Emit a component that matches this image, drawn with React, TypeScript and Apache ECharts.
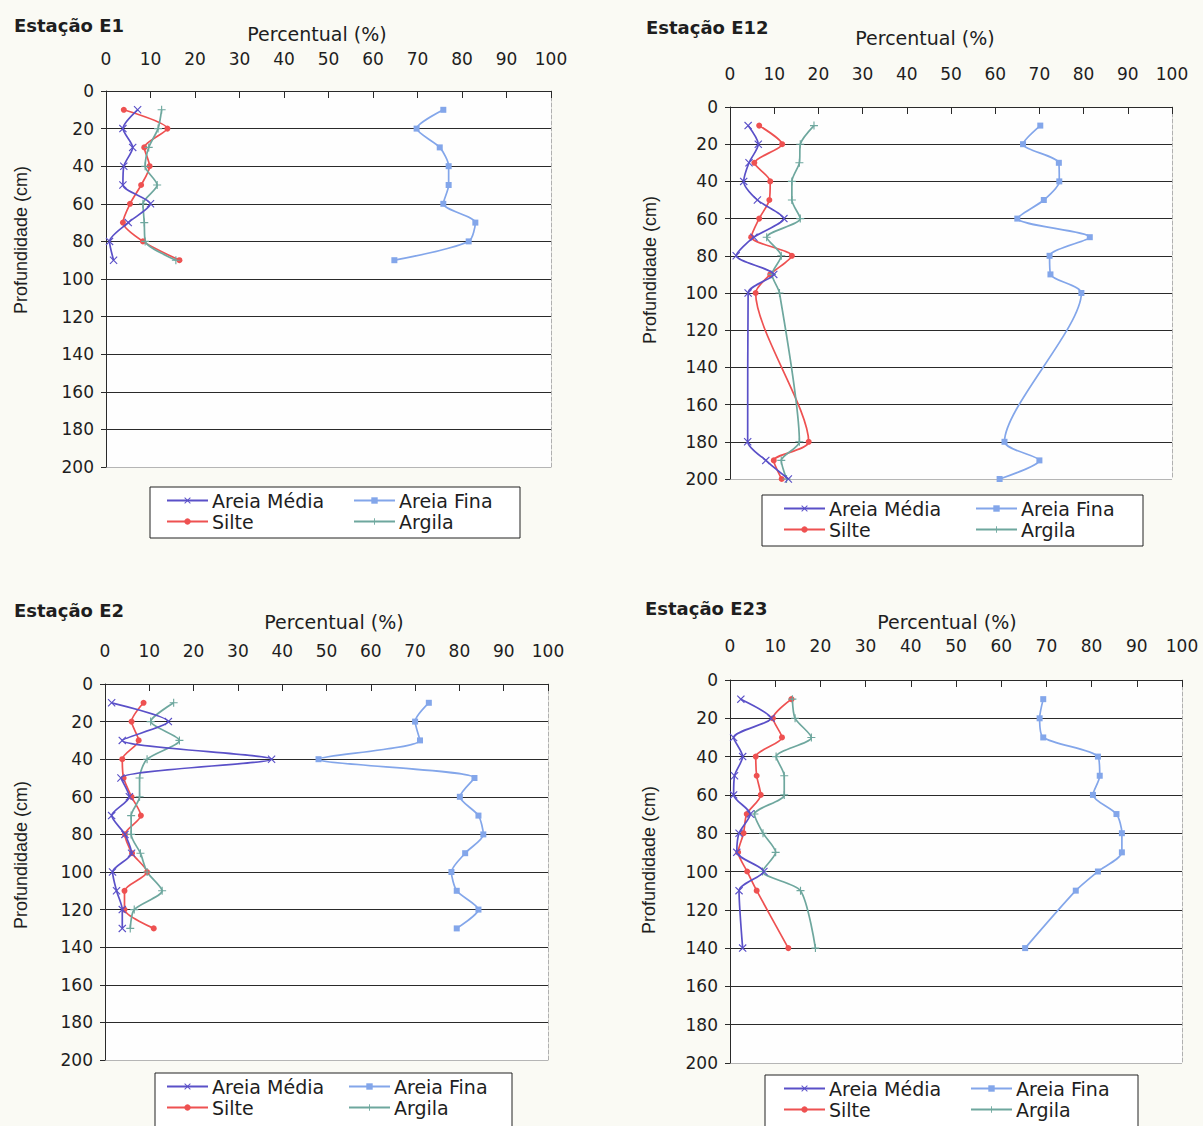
import React, { useEffect, useRef } from "react";
import * as echarts from "echarts";

// ---- data (percent by depth, cm) ----
const seriesNames = ["Areia Média", "Areia Fina", "Silte", "Argila"];
const xTicks = [0, 10, 20, 30, 40, 50, 60, 70, 80, 90, 100];
const yTicks = [0, 20, 40, 60, 80, 100, 120, 140, 160, 180, 200];

const depthE1 = [10, 20, 30, 40, 50, 60, 70, 80, 90];
const e1AreiaMedia = [7.1, 3.8, 6, 4, 3.8, 10, 5, 0.8, 1.7];
const e1AreiaFina = [75.8, 69.8, 75, 77, 77, 75.8, 83, 81.5, 64.8];
const e1Silte = [4, 13.8, 8.6, 9.8, 7.9, 5.4, 3.8, 8.3, 16.5];
const e1Argila = [12.5, 11.7, 9.6, 8.8, 11.5, 8.3, 8.6, 8.8, 15.7];

const depthE12 = [10, 20, 30, 40, 50, 60, 70, 80, 90, 100, 180, 190, 200];
const e12AreiaMedia = [4.1, 6.4, 4.3, 3.1, 6.2, 12.2, 5.4, 1.4, 9.9, 4.1, 4, 8.1, 13.2];
const e12AreiaFina = [70.2, 66.3, 74.4, 74.5, 71, 65, 81.4, 72.3, 72.5, 79.5, 62.1, 70, 61];
const e12Silte = [6.6, 11.8, 5.5, 9.1, 8.9, 6.6, 4.8, 14, 9.1, 5.8, 17.8, 9.9, 11.7];
const e12Argila = [19, 15.9, 15.7, 14, 14, 15.9, 8.3, 11.6, 9.5, 11.2, 15.7, 11.6, 12.8];

const depthE2 = [10, 20, 30, 40, 50, 60, 70, 80, 90, 100, 110, 120, 130];
const e2AreiaMedia = [1.5, 14.3, 3.9, 37.6, 3.6, 5.5, 1.5, 4.5, 6, 1.7, 2.6, 3.9, 3.9];
const e2AreiaFina = [73.1, 70, 71.1, 48.2, 83.4, 80.1, 84.3, 85.4, 81.3, 78.2, 79.4, 84.3, 79.4];
const e2Silte = [8.7, 6, 7.6, 3.9, 4.2, 6, 8.1, 4.5, 6.1, 9.5, 4.4, 4.4, 11];
const e2Argila = [15.5, 10.3, 16.8, 9.5, 7.8, 7.8, 5.9, 5.9, 8, 9.5, 12.9, 6.6, 5.7];

const depthE23 = [10, 20, 30, 40, 50, 60, 70, 80, 90, 100, 110, 140];
const e23AreiaMedia = [2.4, 9.1, 0.8, 2.8, 1, 0.8, 4.5, 2, 1.5, 7.5, 2, 2.8];
const e23AreiaFina = [69.3, 68.5, 69.3, 81.4, 81.8, 80.3, 85.5, 86.7, 86.7, 81.4, 76.5, 65.3];
const e23Silte = [13.6, 9.5, 11.5, 5.7, 5.9, 6.8, 3.7, 3, 1.8, 3.8, 5.9, 12.9];
const e23Argila = [13.8, 14.4, 18, 10.2, 12, 12, 5.4, 7.3, 10.1, 7.2, 15.6, 18.9];

const stationTitles = ["Estação E1", "Estação E12", "Estação E2", "Estação E23"];
const xAxisTitle = "Percentual (%)";
const yAxisTitle = "Profundidade (cm)";

// ---- layout / style ----
const panels = [
  {
    depth: depthE1, values: [e1AreiaMedia, e1AreiaFina, e1Silte, e1Argila],
    grid: { left: 106, top: 91, width: 445, height: 376 }, labelMargin: 24,
    title: [14, 25], xName: [317, 34], yName: [21, 240],
    box: [150, 487, 370, 51], legL: 166, legR: 353, legTop: 491,
  },
  {
    depth: depthE12, values: [e12AreiaMedia, e12AreiaFina, e12Silte, e12Argila],
    grid: { left: 730, top: 107, width: 442, height: 372 }, labelMargin: 25,
    title: [646, 27], xName: [925, 38], yName: [650, 270],
    box: [762, 495, 381, 51], legL: 783, legR: 975, legTop: 499,
  },
  {
    depth: depthE2, values: [e2AreiaMedia, e2AreiaFina, e2Silte, e2Argila],
    grid: { left: 105, top: 684, width: 443, height: 376 }, labelMargin: 25,
    title: [14, 610], xName: [334, 622], yName: [21, 855],
    box: [155, 1073, 357, 60], legL: 166, legR: 348, legTop: 1077,
  },
  {
    depth: depthE23, values: [e23AreiaMedia, e23AreiaFina, e23Silte, e23Argila],
    grid: { left: 730, top: 680, width: 452, height: 383 }, labelMargin: 26,
    title: [645, 608], xName: [947, 622], yName: [649, 860],
    box: [765, 1075, 373, 60], legL: 783, legR: 970, legTop: 1079,
  },
];

const colors = ["#5a50c8", "#83a6ea", "#ee5151", "#6ea79e"];
const symX = "path://M1,0 L5,4 L9,0 L10,1 L6,5 L10,9 L9,10 L5,6 L1,10 L0,9 L4,5 L0,1 Z";
const symPlus = "path://M4.3,0 H5.7 V4.3 H10 V5.7 H5.7 V10 H4.3 V5.7 H0 V4.3 H4.3 Z";
const symbols = [symX, "rect", "circle", symPlus];
const symbolSizes = [8, 6, 6, 8];
const TXT = "#1e1e1e";
const FONT = "DejaVu Sans";

export default function App() {
  const ref = useRef<HTMLDivElement>(null);

  useEffect(() => {
    if (!ref.current) return;
    const chart = echarts.init(ref.current, undefined, { renderer: "svg" });

    const grid: any[] = [];
    const xAxis: any[] = [];
    const yAxis: any[] = [];
    const series: any[] = [];
    const legend: any[] = [];
    const graphic: any[] = [];

    const splitColors = yTicks.map((t, i) => (i === yTicks.length - 1 ? "#b5b5b5" : "#2a2a2a"));

    panels.forEach((p, pi) => {
      grid.push({ ...p.grid, show: true, backgroundColor: "#fefefe", borderWidth: 0 });
      xAxis.push({
        gridIndex: pi, type: "value", position: "top",
        min: xTicks[0], max: xTicks[xTicks.length - 1], interval: xTicks[1] - xTicks[0],
        axisLine: { show: true, lineStyle: { color: "#2a2a2a", width: 1 } },
        axisTick: { show: true, inside: true, length: 7, lineStyle: { color: "#2a2a2a" } },
        axisLabel: { margin: p.labelMargin, fontSize: 17, fontFamily: FONT, color: TXT },
        splitLine: { show: false },
      });
      yAxis.push({
        gridIndex: pi, type: "value", inverse: true,
        min: yTicks[0], max: yTicks[yTicks.length - 1], interval: yTicks[1] - yTicks[0],
        axisLine: { show: true, onZero: false, lineStyle: { color: "#2a2a2a", width: 1 } },
        axisTick: { show: true, length: 5, lineStyle: { color: "#2a2a2a" } },
        axisLabel: { margin: 12, fontSize: 17, fontFamily: FONT, color: TXT },
        splitLine: { show: true, lineStyle: { color: splitColors, width: 1 } },
      });
      yAxis.push({
        gridIndex: pi, type: "value", inverse: true, position: "right",
        min: yTicks[0], max: yTicks[yTicks.length - 1],
        axisLine: { show: true, onZero: false, lineStyle: { color: "#b0b0b0", type: "dashed", width: 1 } },
        axisTick: { show: false }, axisLabel: { show: false }, splitLine: { show: false },
      });

      seriesNames.forEach((name, k) => {
        series.push({
          type: "line", name,
          xAxisIndex: pi, yAxisIndex: pi * 2,
          data: p.depth.map((d, i) => [p.values[k][i], d]),
          smooth: 0.25,
          symbol: symbols[k], symbolSize: symbolSizes[k], showSymbol: true,
          lineStyle: { color: colors[k], width: 1.7 },
          itemStyle: { color: colors[k] },
          z: k === 0 ? 4 : 3,
        });
      });

      const legendCommon = {
        orient: "vertical", top: p.legTop, itemWidth: 41, itemHeight: 8, itemGap: 2,
        selectedMode: false, padding: 0, z: 10,
        textStyle: { fontSize: 19, fontFamily: FONT, color: TXT, lineHeight: 19, padding: [0, 0, 0, -1] },
      };
      legend.push({ ...legendCommon, left: p.legL, data: [seriesNames[0], seriesNames[2]] });
      legend.push({ ...legendCommon, left: p.legR, data: [seriesNames[1], seriesNames[3]] });

      graphic.push({
        type: "rect", z: 1, silent: true,
        shape: { x: p.box[0], y: p.box[1], width: p.box[2], height: p.box[3] },
        style: { fill: "#ffffff", stroke: "#222", lineWidth: 1 },
      });
      graphic.push({
        type: "text", z: 5, x: p.title[0], y: p.title[1],
        style: { text: stationTitles[pi], fontSize: 18, fontWeight: "bold", fontFamily: FONT, fill: TXT, align: "left", verticalAlign: "middle" },
      });
      graphic.push({
        type: "text", z: 5, x: p.xName[0], y: p.xName[1],
        style: { text: xAxisTitle, fontSize: 19, fontFamily: FONT, fill: TXT, align: "center", verticalAlign: "middle" },
      });
      graphic.push({
        type: "text", z: 5, x: p.yName[0], y: p.yName[1], rotation: Math.PI / 2,
        style: { text: yAxisTitle, fontSize: 18, fontFamily: "Liberation Sans", fill: TXT, align: "center", verticalAlign: "middle" },
      });
    });

    chart.setOption({
      animation: false,
      backgroundColor: "#fafaf4",
      grid, xAxis, yAxis, series, legend, graphic,
    });

    return () => chart.dispose();
  }, []);

  return (
    <div
      ref={ref}
      style={{ position: "absolute", left: 0, top: 0, width: 1203, height: 1126 }}
    />
  );
}
